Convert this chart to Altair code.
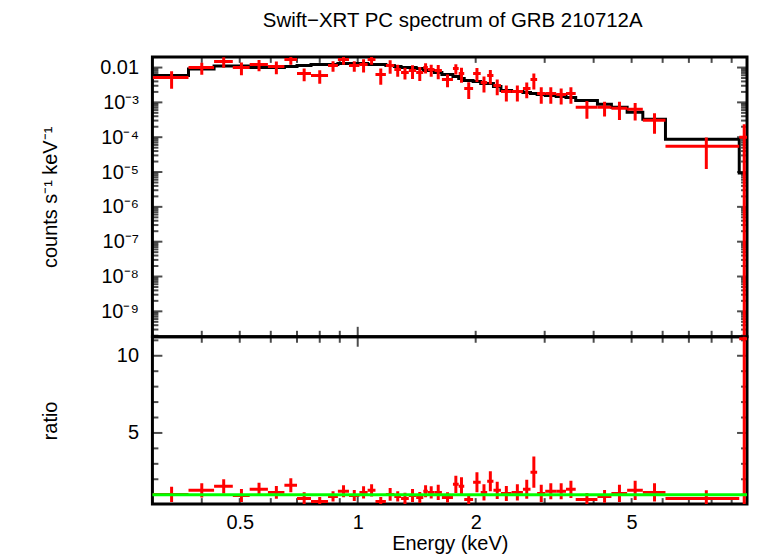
import altair as alt
import pandas as pd

title_text = "Swift\u2212XRT PC spectrum of GRB 210712A"
x_title = "Energy (keV)"
y_title_top = "counts s\u207b\u00b9 keV\u207b\u00b9"
y_title_bot = "ratio"

# energy bin edges (keV)
edges = [0.30, 0.37, 0.43, 0.48, 0.53, 0.59, 0.65, 0.70, 0.76, 0.84, 0.89, 0.95,
         1.01, 1.06, 1.11, 1.18, 1.24, 1.29, 1.35, 1.41, 1.47, 1.51, 1.57, 1.64,
         1.75, 1.81, 1.87, 1.97, 2.06, 2.14, 2.22, 2.32, 2.47, 2.64, 2.76, 2.87,
         3.01, 3.21, 3.40, 3.60, 4.09, 4.44, 4.87, 5.34, 6.10, 9.41, 9.97]
# observed count rate (counts/s/keV)
rate = [0.00518, 0.0100, 0.0148, 0.0100, 0.0122, 0.0107, 0.0169, 0.00674, 0.00591, 0.0114,
        0.0169, 0.0114, 0.0122, 0.0169, 0.00631, 0.0114, 0.00877, 0.00720, 0.00821, 0.00720,
        0.0100, 0.00877, 0.00821, 0.00454, 0.00936, 0.00674, 0.00251, 0.00674, 0.00373, 0.00591,
        0.00306, 0.00206, 0.00206, 0.00251, 0.00454, 0.00181, 0.00181, 0.00169, 0.00181, 0.00072,
        0.00072, 0.000674, 0.000631, 0.000306, 0.0000553, 0.000100]
rate_err = [0.0027, 0.0038, 0.0050, 0.0040, 0.0044, 0.0043, 0.0049, 0.0027, 0.0025, 0.0038,
            0.0049, 0.0038, 0.0050, 0.0049, 0.0031, 0.0048, 0.0033, 0.0027, 0.0035, 0.0031,
            0.0033, 0.0033, 0.0036, 0.0018, 0.0030, 0.0031, 0.00125, 0.0029, 0.0018, 0.0026,
            0.00145, 0.0010, 0.0010, 0.0012, 0.0022, 0.0009, 0.0009, 0.00082, 0.0009, 0.00038,
            0.00033, 0.00036, 0.00033, 0.00018, 0.000043, 0.000135]
# folded model (counts/s/keV)
model = [0.00591, 0.00910, 0.0110, 0.0110, 0.0100, 0.0100, 0.0107, 0.0114, 0.0122, 0.0122,
         0.0130, 0.0130, 0.0130, 0.0122, 0.0122, 0.0114, 0.0107, 0.0100, 0.0100, 0.00936,
         0.00821, 0.00821, 0.00720, 0.00631, 0.00553, 0.00485, 0.00425, 0.00398, 0.00349, 0.00349,
         0.00286, 0.00220, 0.00206, 0.00193, 0.00181, 0.00169, 0.00158, 0.00148, 0.00139, 0.00114,
         0.000877, 0.000720, 0.000518, 0.000327, 0.0000877, 0.00000936]
# data / model ratio
ratio = [1.02, 1.28, 1.54, 0.95, 1.35, 1.15, 1.61, 0.76, 0.56, 0.89,
         1.22, 0.95, 1.15, 1.28, 0.56, 1.02, 0.89, 0.76, 0.95, 0.82,
         1.22, 1.15, 1.15, 0.82, 1.67, 1.54, 0.69, 1.80, 1.15, 1.87,
         1.28, 1.08, 1.15, 1.35, 2.46, 1.08, 1.22, 1.22, 1.35, 0.69,
         0.89, 1.08, 1.28, 1.15, 0.76, 11.1]
ratio_err = [0.49, 0.46, 0.46, 0.42, 0.42, 0.42, 0.46, 0.39, 0.29, 0.33,
             0.39, 0.36, 0.39, 0.39, 0.29, 0.42, 0.33, 0.36, 0.42, 0.36,
             0.39, 0.39, 0.49, 0.33, 0.56, 0.59, 0.36, 0.65, 0.52, 0.65,
             0.56, 0.49, 0.52, 0.62, 1.01, 0.56, 0.52, 0.52, 0.56, 0.42,
             0.42, 0.56, 0.62, 0.59, 0.52, 15.0]
unity = [1.0]

# axis ticks / labels
x_label_values = [0.5, 1, 2, 5]
x_major = [1.0]
x_minor = [0.4, 0.5, 0.6, 0.7, 0.8, 0.9, 2, 3, 4, 5, 6, 7, 8, 9]
top_label_values = [1e-9, 1e-8, 1e-7, 1e-6, 1e-5, 1e-4, 1e-3, 1e-2]
top_major = top_label_values
decades = [1e-10, 1e-9, 1e-8, 1e-7, 1e-6, 1e-5, 1e-4, 1e-3, 1e-2]
bot_label_values = [5, 10]
bot_major = [5, 10]
bot_minor = [1, 2, 3, 4, 6, 7, 8, 9, 11]

E_MIN, E_MAX = 0.2993, 9.85
C_MIN, C_MAX = 1.86e-10, 0.0202
R_MIN, R_MAX = 0.39, 11.23
top_minor = [m * d for d in decades for m in range(2, 10) if C_MIN <= m * d <= C_MAX]

W, H_TOP, H_BOT = 597, 281, 168
MAJ, MINL, TW = 10, 6, 2
RED, BLACK, GREEN = "#ff0000", "#000000", "#00ff00"

xs = alt.Scale(type="log", domain=[E_MIN, E_MAX], nice=False)
ys_top = alt.Scale(type="log", domain=[C_MIN, C_MAX], nice=False)
ys_bot = alt.Scale(type="linear", domain=[R_MIN, R_MAX], nice=False, zero=False)

bins = pd.DataFrame({
    "lo": edges[:-1], "hi": edges[1:], "rate": rate, "err": rate_err,
    "model": model, "ratio": ratio, "rerr": ratio_err,
})
step = pd.DataFrame({"e": edges, "m": model + [model[-1]]})

sup_expr = ("datum.value > 0.005 ? '0.01' : '10' + "
            "['\u2070','\u207b\u00b9','\u207b\u00b2','\u207b\u00b3','\u207b\u2074',"
            "'\u207b\u2075','\u207b\u2076','\u207b\u2077','\u207b\u2078','\u207b\u2079']"
            "[round(-log(datum.value)/LN10)]")

top_yaxis = alt.Axis(
    values=top_label_values, labelExpr=sup_expr, title=y_title_top,
    titleAngle=270, titleX=-96, titleBaseline="alphabetic", titleAlign="center",
    labelPadding=14, labelAlign="right", labelBaseline="middle", labelOverlap=False,
)
bot_yaxis = alt.Axis(
    values=bot_label_values, format="d", title=y_title_bot,
    titleAngle=270, titleX=-96, titleBaseline="alphabetic", titleAlign="center",
    labelPadding=14, labelAlign="right", labelBaseline="middle", labelOverlap=False,
)
bot_xaxis = alt.Axis(
    values=x_label_values, format="~g", title=x_title,
    titleY=46, titleBaseline="alphabetic", labelPadding=8.5, labelOverlap=False,
    labelFlush=False,
)


def yticks(values, yscale, xaxis, yaxis, length, x_edge, sign):
    df = pd.DataFrame({"v": values})
    return alt.Chart(df).mark_tick(
        orient="horizontal", size=length, thickness=TW, color=BLACK,
        xOffset=sign * length / 2,
    ).encode(
        x=alt.XDatum(x_edge, type="quantitative", scale=xs, axis=xaxis),
        y=alt.Y("v:Q", scale=yscale, axis=yaxis),
    )


def xticks(values, yscale, xaxis, yaxis, length, y_edge, sign):
    df = pd.DataFrame({"v": values})
    return alt.Chart(df).mark_tick(
        orient="vertical", size=length, thickness=TW, color=BLACK,
        yOffset=sign * length / 2,
    ).encode(
        x=alt.X("v:Q", scale=xs, axis=xaxis),
        y=alt.YDatum(y_edge, type="quantitative", scale=yscale, axis=yaxis),
    )


def frame_ticks(yscale, xaxis, yaxis, ymin, ymax, ymaj, ymin_ticks):
    return [
        yticks(ymaj, yscale, xaxis, yaxis, MAJ, E_MIN, 1),
        yticks(ymin_ticks, yscale, xaxis, yaxis, MINL, E_MIN, 1),
        yticks(ymaj, yscale, xaxis, yaxis, MAJ, E_MAX, -1),
        yticks(ymin_ticks, yscale, xaxis, yaxis, MINL, E_MAX, -1),
        xticks(x_major, yscale, xaxis, yaxis, MAJ, ymax, 1),
        xticks(x_minor, yscale, xaxis, yaxis, MINL, ymax, 1),
        xticks(x_major, yscale, xaxis, yaxis, MAJ, ymin, -1),
        xticks(x_minor, yscale, xaxis, yaxis, MINL, ymin, -1),
    ]


# ---------- top panel: spectrum ----------
model_line = alt.Chart(step).mark_line(
    interpolate="step-after", color=BLACK, strokeWidth=3, clip=True
).encode(
    x=alt.X("e:Q", scale=xs, axis=None),
    y=alt.Y("m:Q", scale=ys_top, axis=top_yaxis),
)
top_h = alt.Chart(bins).mark_rule(color=RED, strokeWidth=3, clip=True).encode(
    x=alt.X("lo:Q", scale=xs, axis=None),
    x2="hi:Q",
    y=alt.Y("rate:Q", scale=ys_top, axis=top_yaxis),
)
top_v = alt.Chart(bins).transform_calculate(
    mid="(datum.lo + datum.hi) / 2",
    ylo="max(datum.rate - datum.err, 1e-14)",
    yhi="datum.rate + datum.err",
).mark_rule(color=RED, strokeWidth=3, clip=True).encode(
    x=alt.X("mid:Q", scale=xs, axis=None),
    y=alt.Y("ylo:Q", scale=ys_top, axis=top_yaxis),
    y2="yhi:Q",
)

top = alt.layer(
    *frame_ticks(ys_top, None, top_yaxis, C_MIN, C_MAX, top_major, top_minor),
    model_line, top_h, top_v,
).properties(
    width=W, height=H_TOP,
    title=alt.TitleParams(
        title_text, fontSize=20.5, fontWeight="normal", anchor="middle",
        frame="group", baseline="alphabetic", offset=9, dx=3, color=BLACK,
    ),
)

# ---------- bottom panel: ratio ----------
bot_h = alt.Chart(bins).mark_rule(color=RED, strokeWidth=3, clip=True).encode(
    x=alt.X("lo:Q", scale=xs, axis=bot_xaxis),
    x2="hi:Q",
    y=alt.Y("ratio:Q", scale=ys_bot, axis=bot_yaxis),
)
bot_v = alt.Chart(bins).transform_calculate(
    mid="(datum.lo + datum.hi) / 2",
    rlo="datum.ratio - datum.rerr",
    rhi="datum.ratio + datum.rerr",
).mark_rule(color=RED, strokeWidth=3, clip=True).encode(
    x=alt.X("mid:Q", scale=xs, axis=bot_xaxis),
    y=alt.Y("rlo:Q", scale=ys_bot, axis=bot_yaxis),
    y2="rhi:Q",
)
green = alt.Chart(pd.DataFrame({"r": unity})).mark_rule(
    color=GREEN, strokeWidth=3
).encode(y=alt.Y("r:Q", scale=ys_bot, axis=bot_yaxis))

bottom = alt.layer(
    *frame_ticks(ys_bot, bot_xaxis, bot_yaxis, R_MIN, R_MAX, bot_major, bot_minor),
    bot_h, bot_v, green,
).properties(width=W, height=H_BOT)

chart = alt.vconcat(top, bottom, spacing=0, bounds="flush").properties(
    padding={"left": 31, "top": 0, "right": 0, "bottom": 0},
).configure(
    font="Liberation Sans",
).configure_view(
    stroke=BLACK, strokeWidth=3,
).configure_axis(
    labelFontSize=20, titleFontSize=20, labelColor=BLACK, titleColor=BLACK,
    titleFontWeight="normal", labelFont="Liberation Sans", titleFont="Liberation Sans",
    domain=False, ticks=False, tickSize=0, grid=False,
)

chart.save("out.html", embed_options={"renderer": "svg", "actions": False})
